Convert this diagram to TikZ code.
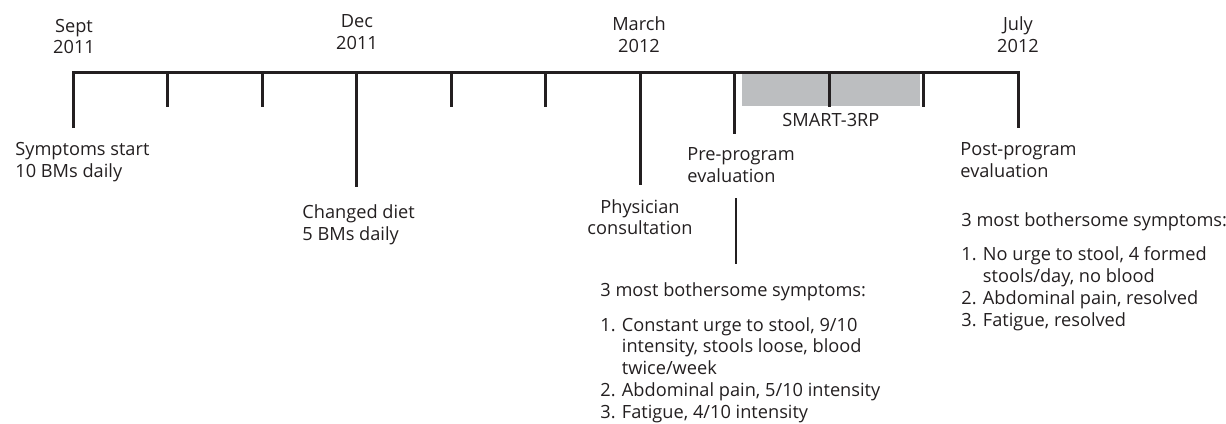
\documentclass[tikz,border=0pt]{standalone}
\usepackage{fontspec}
\setmainfont{Open Sans}
\usetikzlibrary{positioning}
\definecolor{inkGray}{HTML}{231F20}
\definecolor{phaseGray}{HTML}{BCBEC0}
\newcommand{\tlfont}{\fontsize{9.1}{10.85}\selectfont}
\tikzset{
  axisline/.style={line width=1.5pt, draw=inkGray, line join=miter},
  tickline/.style={line width=1.5pt, draw=inkGray},
  linkline/.style={line width=1.1pt, draw=inkGray},
  datelabel/.style={align=center, inner sep=0pt, font=\tlfont, text=inkGray, anchor=base},
  eventlabel/.style={align=left, inner sep=0pt, font=\tlfont, text=inkGray, anchor=base west},
  phasebar/.style={fill=phaseGray, draw=none, inner sep=0pt, minimum width=89.15pt, minimum height=15.9pt}
}

\begin{document}
\begin{tikzpicture}[x=0.5pt, y=-0.5pt]
  \useasboundingbox (0,0) rectangle (1226,423);
  % tick tops and bottoms along the axis
  \foreach \i/\len in {0/128,1/107,2/107,3/187,4/107,5/107,6/185,7/134,8/107,9/107,10/128}{
    \coordinate (t\i) at (73+94.5*\i,72.7);
    \coordinate (b\i) at (73+94.5*\i,\len);
  }
  % program phase
  \node[phasebar] (smartBar) at (830.85,90.1) {};
  \node[datelabel, below=3.5pt of smartBar] (smartLabel) {SMART-3RP};
  % axis and ticks
  \draw[axisline] (b0) -- (t0) -- (t10) -- (b10);
  \foreach \i in {1,...,9}{
    \draw[tickline] (t\i) -- (b\i);
  }
  % dates (anchored on the last line)
  \node[datelabel] (sept) at (74,54) {Sept\\2011};
  \node[datelabel] (dec) at (357,49) {Dec\\2011};
  \node[datelabel] (march) at (639,52) {March\\2012};
  \node[datelabel] (july) at (1018,52) {July\\2012};
  % events
  \node[eventlabel] (symStart) at (15,177) {Symptoms start\\10 BMs daily};
  \node[eventlabel] (diet) at (302,240) {Changed diet\\5 BMs daily};
  \node[datelabel, below=7pt of b6] (physician) {Physician\\consultation};
  \node[eventlabel] (preEval) at (687,182) {Pre-program\\evaluation};
  \node[eventlabel] (postEval) at (960,177) {Post-program\\evaluation};
  % symptom lists
  \node[eventlabel] (preSym) at (600,418) {3 most bothersome symptoms:\\[6.5pt]
    1. Constant urge to stool, 9/10\\
    \hphantom{1. }intensity, stools loose, blood\\
    \hphantom{1. }twice/week\\
    2. Abdominal pain, 5/10 intensity\\
    3. Fatigue, 4/10 intensity};
  \node[eventlabel] (postSym) at (961,326) {3 most bothersome symptoms:\\[6.5pt]
    1. No urge to stool, 4 formed\\
    \hphantom{1. }stools/day, no blood\\
    2. Abdominal pain, resolved\\
    3. Fatigue, resolved};
  \coordinate (linkTop) at (736,198);
  \coordinate (linkEnd) at (736,264);
  \draw[linkline] (linkTop) -- (linkEnd);
\end{tikzpicture}
\end{document}
